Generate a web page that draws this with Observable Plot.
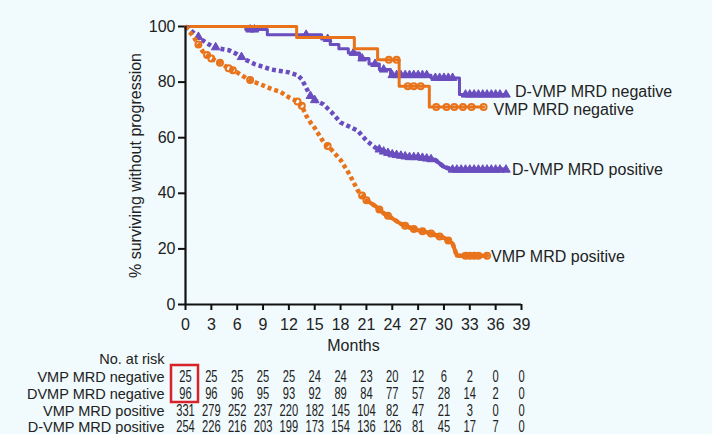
<!DOCTYPE html>
<html>
<head>
<meta charset="utf-8">
<script src="https://cdn.jsdelivr.net/npm/d3@7"></script>
<script src="https://cdn.jsdelivr.net/npm/@observablehq/plot@0.6"></script>
<style>
  html, body { margin: 0; padding: 0; background: #f1fafc; }
  #chart { width: 712px; height: 434px; overflow: hidden; }
  svg { background: #f1fafc; }
</style>
</head>
<body>
<div id="chart"></div>
<script>
// ---------- data ----------
const seriesNames = ["D-VMP MRD negative", "VMP MRD negative", "D-VMP MRD positive", "VMP MRD positive"];
const seriesColors = ["#6a4dbe", "#e8731a", "#6a4dbe", "#e8731a"];

const vmpNegMonths = [0, 12.9, 19.6, 22.3, 24.8, 28.3, 34.6];
const vmpNegSurv   = [100, 96, 92, 88, 78.5, 71, 71];

const dvmpNegMonths = [0, 7, 9.5, 15.8, 16.8, 17.8, 18.9, 20.2, 21.3, 22.5, 23.8, 28.5, 31.8, 37.2];
const dvmpNegSurv   = [100, 98.9, 97, 95.5, 93.5, 92, 90.5, 88.5, 86.5, 84.5, 82.5, 81.5, 75.5, 75.5];

const dvmpPosMonths = [0, 0.5, 1, 2, 3, 4, 5, 6, 7, 8, 9, 10, 11, 12, 13, 13.5, 14, 14.5, 15, 16, 17, 18, 19, 20, 21, 22, 23, 24, 25, 26, 27, 28, 29, 30, 31, 37.2];
const dvmpPosSurv   = [100, 99, 97.5, 95, 93, 92, 91.5, 90, 88, 86.5, 85.5, 84.5, 84, 83.5, 82.5, 81, 78, 75, 73.5, 72, 69, 65.5, 64, 62.5, 59, 56.5, 55, 54, 53.5, 53, 53, 52.5, 52, 49.5, 48.5, 48.5];

const vmpPosMonths = [0, 0.5, 1, 2, 3, 4, 5, 6, 7, 8, 9, 10, 11, 12, 13, 13.5, 14, 14.5, 15, 16, 17, 18, 19, 20, 21, 22, 23, 24, 25, 26, 27, 28, 29, 30, 31, 31.5, 35];
const vmpPosSurv   = [100, 98, 96, 91, 88.5, 87, 85, 83.5, 81.5, 80, 78.8, 77.5, 76.5, 74.5, 73, 71.5, 68, 65.5, 63.5, 58.5, 55.5, 52, 47, 41, 37.5, 35.5, 32.8, 31, 29, 27.7, 26.7, 26, 25, 24, 22, 17.5, 17.5];

// month from which the dense censoring makes each MRD-positive curve look solid
const dvmpPosSolidFrom = 22.5;
const vmpPosSolidFrom  = 21;

// censoring marks (months)
const dvmpNegCens = [7.5, 8, 14, 16.5, 19.5, 20.5, 22, 23, 24, 24.5, 25, 25.5, 26, 26.5, 27, 27.5, 28, 29, 29.5, 30, 30.5, 31, 32.5, 33, 33.5, 34, 34.5, 35, 35.5, 36, 36.5, 37.2];
const vmpNegCens  = [23.6, 24.5, 25.8, 26.5, 27.3, 29.1, 30.3, 31.2, 32.2, 33.2, 34.6];
const dvmpPosCens = [1.5, 3.5, 6.5, 14.5, 15, 22.5, 23, 23.5, 24, 24.5, 25, 25.5, 26, 26.5, 27, 27.5, 28, 28.5, 31, 31.5, 32, 32.5, 33, 33.5, 34, 34.5, 35, 35.5, 36, 36.5, 37.2];
const vmpPosCens  = [1.5, 2.5, 3, 4, 5, 5.5, 7.5, 13, 13.5, 16.5, 20.5, 21, 22.5, 23.5, 25.5, 26.5, 27.5, 28.5, 29.5, 30.5, 32.5, 33, 33.5, 34, 35];

// risk table
const riskMonths = [0, 3, 6, 9, 12, 15, 18, 21, 24, 27, 30, 33, 36, 39];
const riskRowLabels = ["VMP MRD negative", "DVMP MRD negative", "VMP MRD positive", "D-VMP MRD positive"];
const riskVmpNeg  = [25, 25, 25, 25, 25, 24, 24, 23, 20, 12, 6, 2, 0, 0];
const riskDvmpNeg = [96, 96, 96, 95, 93, 92, 89, 84, 77, 57, 28, 14, 2, 0];
const riskVmpPos  = [331, 279, 252, 237, 220, 182, 145, 104, 82, 47, 21, 3, 0, 0];
const riskDvmpPos = [254, 226, 216, 203, 199, 173, 154, 136, 126, 81, 45, 17, 7, 0];

const xTicks = riskMonths;
const yTicks = [0, 20, 40, 60, 80, 100];

// ---------- build ----------
const curves = [
  {name: seriesNames[0], color: seriesColors[0], months: dvmpNegMonths, surv: dvmpNegSurv, cens: dvmpNegCens, symbol: "triangle", positive: false, dx: 9, dy: -3},
  {name: seriesNames[1], color: seriesColors[1], months: vmpNegMonths, surv: vmpNegSurv, cens: vmpNegCens, symbol: "circle", positive: false, dx: 10, dy: 3},
  {name: seriesNames[2], color: seriesColors[2], months: dvmpPosMonths, surv: dvmpPosSurv, cens: dvmpPosCens, symbol: "triangle", positive: true, solidFrom: dvmpPosSolidFrom, dx: 6, dy: 0},
  {name: seriesNames[3], color: seriesColors[3], months: vmpPosMonths, surv: vmpPosSurv, cens: vmpPosCens, symbol: "circle", positive: true, solidFrom: vmpPosSolidFrom, dx: 4, dy: 1}
];

function valueAt(months, surv, t, linear) {
  for (let i = 0; i < months.length - 1; i++) {
    if (t >= months[i] && t < months[i + 1]) {
      if (!linear) return surv[i];
      const f = (t - months[i]) / (months[i + 1] - months[i]);
      return surv[i] + f * (surv[i + 1] - surv[i]);
    }
  }
  return surv[surv.length - 1];
}

const FONT = "Liberation Sans, Arial, sans-serif";
const marks = [];

curves.forEach(c => {
  const pts = c.months.map((m, i) => ({m, s: c.surv[i]}));
  marks.push(Plot.line(pts, {x: "m", y: "s", curve: c.positive ? "linear" : "step-after", stroke: c.color,
    strokeWidth: c.positive ? 4.5 : 3,
    strokeLinecap: c.positive ? "butt" : "round",
    strokeDasharray: c.positive ? "4,3" : null}));
  if (c.positive) {
    const tail = [{m: c.solidFrom, s: valueAt(c.months, c.surv, c.solidFrom, true)}, ...pts.filter(p => p.m > c.solidFrom)];
    marks.push(Plot.line(tail, {x: "m", y: "s", stroke: c.color, strokeWidth: 4}));
  }
  const cp = c.cens.map(t => ({m: t, s: valueAt(c.months, c.surv, t, c.positive)}));
  if (c.symbol === "triangle") {
    marks.push(Plot.dot(cp, {x: "m", y: "s", symbol: "triangle", r: 3.2, fill: c.color, stroke: c.color, strokeWidth: 1}));
  } else {
    marks.push(Plot.dot(cp, {x: "m", y: "s", symbol: "circle", r: 3, fill: "none", stroke: c.color, strokeWidth: 2}));
  }
  const last = pts[pts.length - 1];
  marks.push(Plot.text([last], {x: "m", y: "s", text: () => c.name, textAnchor: "start", dx: c.dx, dy: c.dy,
    fontSize: 16, fill: "#222", fontFamily: FONT}));
});

// risk table rows
const riskRows = [riskVmpNeg, riskDvmpNeg, riskVmpPos, riskDvmpPos];
const rowDy = [77, 94, 111, 127];
riskRows.forEach((row, r) => {
  const data = row.map((n, i) => ({m: riskMonths[i], n}));
  marks.push(Plot.text(data, {x: "m", text: d => String(d.n), frameAnchor: "bottom", dy: rowDy[r],
    fontSize: 16, fill: "#222", fontFamily: FONT, className: "risk-num"}));
  marks.push(Plot.text([riskRowLabels[r]], {x: () => 0, text: d => d, frameAnchor: "bottom", dy: rowDy[r], dx: -21, textAnchor: "end",
    fontSize: 14.5, fill: "#222", fontFamily: FONT}));
});
marks.push(Plot.text(["No. at risk"], {x: () => 0, text: d => d, frameAnchor: "bottom", dy: 59, dx: -21, textAnchor: "end",
  fontSize: 14.5, fill: "#222", fontFamily: FONT}));

// axis lines
marks.push(Plot.ruleY([0], {stroke: "#111", strokeWidth: 2}));
marks.push(Plot.ruleX([0], {stroke: "#111", strokeWidth: 2.2, y1: 0, y2: 100}));

// red highlight box around first column of MRD-negative rows
marks.push((index, scales, values, dims) => {
  const x0 = scales.x(0);
  const yb = dims.height - dims.marginBottom;
  return d3.create("svg:rect")
    .attr("x", x0 - 14).attr("y", yb + 61)
    .attr("width", 27).attr("height", 37)
    .attr("fill", "none").attr("stroke", "#d9232a").attr("stroke-width", 2.5).node();
});

const plot = Plot.plot({
  width: 712,
  height: 434,
  marginLeft: 185,
  marginRight: 191,
  marginTop: 26,
  marginBottom: 130,
  style: {background: "#f1fafc", fontFamily: FONT, fontSize: "16px", color: "#222"},
  x: {domain: [0, 39]},
  y: {domain: [0, 100]},
  marks: [
    Plot.axisX({ticks: xTicks, tickSize: 6, tickPadding: 8, stroke: "#111", strokeWidth: 2, label: "Months", labelAnchor: "center", labelArrow: "none", labelOffset: 46, fontSize: 16, fill: "#222"}),
    Plot.axisY({ticks: yTicks, tickSize: 7, tickPadding: 3, stroke: "#111", strokeWidth: 2, label: "% surviving without progression", labelAnchor: "center", labelArrow: "none", labelOffset: 56, fontSize: 16, fill: "#222"}),
    ...marks
  ]
});
document.getElementById("chart").appendChild(plot);

// condense the risk-table numbers like the reference
d3.select(plot).selectAll(".risk-num text").each(function () {
  const t = d3.select(this);
  const n = t.text().length;
  t.attr("textLength", n * 6.2).attr("lengthAdjust", "spacingAndGlyphs");
});
</script>
</body>
</html>
